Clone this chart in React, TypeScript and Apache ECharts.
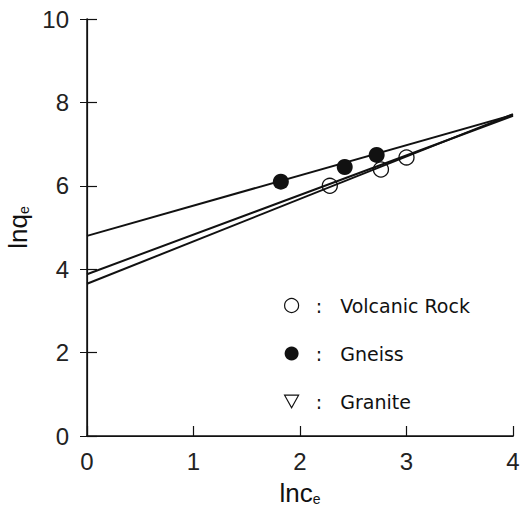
import React, { useEffect, useRef } from "react";
import * as echarts from "echarts";

const xTicks = [0, 1, 2, 3, 4];
const yTicks = [0, 2, 4, 6, 8, 10];

const volcanicPoints: [number, number][] = [
  [2.28, 6.0],
  [2.76, 6.39],
  [3.0, 6.68],
];
const gneissPoints: [number, number][] = [
  [1.82, 6.1],
  [2.42, 6.45],
  [2.72, 6.74],
];
const granitePoints: [number, number][] = [];

const gneissFit: [number, number][] = [
  [0, 4.8],
  [4, 7.7],
];
const volcanicFit: [number, number][] = [
  [0, 3.88],
  [4, 7.68],
];
const graniteFit: [number, number][] = [
  [0, 3.65],
  [4, 7.72],
];

const FONT = "Liberation Sans";
const LEGEND_FONT = "DejaVu Sans";

export default function App() {
  const ref = useRef<HTMLDivElement>(null);
  useEffect(() => {
    if (!ref.current) return;
    const chart = echarts.init(ref.current, null, { renderer: "svg" });
    const fitLine = (data: [number, number][]) => ({
      type: "line",
      data,
      showSymbol: false,
      symbol: "none",
      lineStyle: { color: "#111", width: 2 },
      silent: true,
      z: 1,
    });
    chart.setOption({
      animation: false,
      backgroundColor: "#fff",
      grid: { left: 87, right: 17, top: 19, bottom: 80, outerBoundsMode: "none", containLabel: false },
      legend: {
        data: [
          { name: "Volcanic Rock", icon: "circle", itemStyle: { color: "#fff", borderColor: "#111", borderWidth: 1.2, opacity: 1 } },
          { name: "Gneiss", icon: "circle", itemStyle: { color: "#111", opacity: 1 } },
          { name: "Granite", icon: "path://M0,0 L10,0 L5,9 Z", itemStyle: { color: "#fff", borderColor: "#111", borderWidth: 1.2, opacity: 1 } },
        ],
        orient: "vertical",
        left: 279,
        top: 291,
        itemWidth: 14,
        itemHeight: 14,
        itemGap: 29,
        selectedMode: false,
        formatter: (name: string) => "  :   " + name,
        textStyle: { fontFamily: LEGEND_FONT, fontSize: 19, color: "#111" },
      },
      xAxis: [
        {
          type: "value",
          min: 0,
          max: 4,
          interval: 1,
          position: "bottom",
          name: "{a|lnc}{b|e}",
          nameLocation: "middle",
          nameGap: 44,
          nameTextStyle: {
            rich: {
              a: { fontFamily: FONT, fontSize: 26, color: "#111" },
              b: { fontFamily: FONT, fontSize: 14, color: "#111", padding: [12, 0, 0, 0] },
            },
          },
          axisLine: { show: true, lineStyle: { color: "#111", width: 1.5 } },
          axisTick: { show: true, inside: true, length: 10, lineStyle: { color: "#111", width: 1.2 } },
          axisLabel: { fontFamily: FONT, fontSize: 24, color: "#222", margin: 13 },
          splitLine: { show: false },
        },
        {
          type: "value",
          min: 0,
          max: 4,
          interval: 1,
          position: "top",
          axisLine: { show: true, lineStyle: { color: "#111", width: 1.2 } },
          axisTick: { show: false },
          axisLabel: { show: false },
          splitLine: { show: false },
        },
      ],
      yAxis: [
        {
          type: "value",
          min: 0,
          max: 10,
          interval: 2,
          position: "left",
          name: "{a|lnq}{b|e}",
          nameLocation: "middle",
          nameGap: 33,
          nameRotate: 90,
          nameTextStyle: {
            rich: {
              a: { fontFamily: FONT, fontSize: 26, color: "#111" },
              b: { fontFamily: FONT, fontSize: 14, color: "#111", padding: [12, 0, 0, 0] },
            },
          },
          axisLine: { show: true, lineStyle: { color: "#111", width: 1.5 } },
          axisTick: { show: true, inside: true, length: 10, lineStyle: { color: "#111", width: 1.2 } },
          axisLabel: { fontFamily: FONT, fontSize: 24, color: "#222", margin: 18 },
          splitLine: { show: false },
        },
        {
          type: "value",
          min: 0,
          max: 10,
          interval: 2,
          position: "right",
          axisLine: { show: true, lineStyle: { color: "#111", width: 1.2 } },
          axisTick: { show: true, inside: true, length: 7, lineStyle: { color: "#111", width: 1 } },
          axisLabel: { show: false },
          splitLine: { show: false },
        },
      ],
      series: [
        fitLine(gneissFit),
        fitLine(volcanicFit),
        fitLine(graniteFit),
        {
          name: "Volcanic Rock",
          type: "scatter",
          data: volcanicPoints,
          symbol: "circle",
          symbolSize: 15,
          itemStyle: { color: "transparent", borderColor: "#111", borderWidth: 1.3, opacity: 1 },
          z: 3,
        },
        {
          name: "Gneiss",
          type: "scatter",
          data: gneissPoints,
          symbol: "circle",
          symbolSize: 16,
          itemStyle: { color: "#111", opacity: 1 },
          z: 3,
        },
        {
          name: "Granite",
          type: "scatter",
          data: granitePoints,
          symbol: "path://M0,0 L10,0 L5,9 Z",
          symbolSize: 12,
          itemStyle: { color: "#fff", borderColor: "#111", borderWidth: 1.2, opacity: 1 },
          z: 3,
        },
      ],
    });
    return () => chart.dispose();
  }, []);
  return (
    <div
      ref={ref}
      style={{ position: "fixed", left: 0, top: 0, width: 530, height: 516, background: "#fff" }}
    />
  );
}
